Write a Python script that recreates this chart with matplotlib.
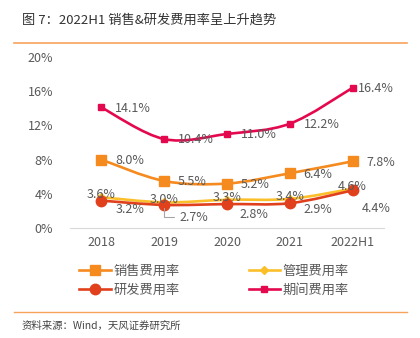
import matplotlib
matplotlib.use('Agg')
import matplotlib.pyplot as plt
from matplotlib.lines import Line2D
from matplotlib.path import Path
from matplotlib.patches import PathPatch

plt.rcParams['font.family'] = ['Noto Sans CJK SC', 'DejaVu Sans']

years = ['2018', '2019', '2020', '2021', '2022H1']
sales = [8.0, 5.5, 5.2, 6.4, 7.8]
admin = [3.6, 3.0, 3.3, 3.4, 4.6]
rnd = [3.2, 2.7, 2.8, 2.9, 4.4]
period = [14.1, 10.4, 11.0, 12.2, 16.4]
yticks = [0, 4, 8, 12, 16, 20]

c_sales = '#F58A1F'
c_admin = '#FBBF2A'
c_rnd = '#E0401C'
c_period = '#E4084F'
grey = '#595959'


def smooth_line(ax, xs, ys, color, lw):
    # catmull-rom style bezier through the points (like office "smoothed line")
    pts = list(zip(xs, ys))
    verts = [pts[0]]
    codes = [Path.MOVETO]
    n = len(pts)
    for i in range(n - 1):
        p0 = pts[i - 1] if i > 0 else pts[i]
        p1 = pts[i]
        p2 = pts[i + 1]
        p3 = pts[i + 2] if i + 2 < n else pts[i + 1]
        c1 = (p1[0] + (p2[0] - p0[0]) / 6, p1[1] + (p2[1] - p0[1]) / 6)
        c2 = (p2[0] - (p3[0] - p1[0]) / 6, p2[1] - (p3[1] - p1[1]) / 6)
        verts += [c1, c2, p2]
        codes += [Path.CURVE4] * 3
    ax.add_patch(PathPatch(Path(verts, codes), fc='none', ec=color, lw=lw,
                           capstyle='round', joinstyle='round'))


fig = plt.figure(figsize=(4.2, 3.38), dpi=100)
fig.text(22/420, 1-20/338, '图 7：2022H1 销售&研发费用率呈上升趋势', fontsize=9.5,
         color='#333333', va='center', ha='left')
fig.add_artist(Line2D([14/420, 407/420], [1-43/338, 1-43/338], color='#F7A35C', lw=1.2))
fig.add_artist(Line2D([14/420, 407/420], [1-312/338, 1-312/338], color='#F7A35C', lw=1.0))
fig.text(22/420, 1-326/338, '资料来源：Wind，天风证券研究所', fontsize=7.5,
         color='#444444', va='center', ha='left')

ax = fig.add_axes([70/420, 1-228/338, 314/420, 171/338])
x = list(range(len(years)))
lw = 1.9
series = [
    (period, c_period, 's', 4, '期间费用率'),
    (sales, c_sales, 's', 7, '销售费用率'),
    (admin, c_admin, 'D', 4, '管理费用率'),
    (rnd, c_rnd, 'o', 7.5, '研发费用率'),
]
handles = {}
for ys, c, m, ms, name in series:
    smooth_line(ax, x, ys, c, lw)
    ax.plot(x, ys, ls='none', marker=m, ms=ms, color=c)
    handles[name] = Line2D([], [], color=c, lw=lw, marker=m, ms=ms)

ax.set_xlim(-0.5, 4.5)
ax.set_ylim(0, 20)
ax.set_yticks(yticks)
ax.set_yticklabels(['%d%%' % v for v in yticks])
ax.set_xticks(x)
ax.set_xticklabels(years)
ax.tick_params(axis='both', length=0, labelsize=9, colors=grey, pad=6)
ax.tick_params(axis='y', pad=12)
for s in ['top', 'right', 'left']:
    ax.spines[s].set_visible(False)
ax.spines['bottom'].set_color('#D9D9D9')

fs = 9
# value labels
period_dx = [0.22, 0.22, 0.22, 0.22, 0.09]
for i, v in enumerate(period):
    ax.text(i + period_dx[i], v - 0.1, '%.1f%%' % v, fontsize=fs, color=grey,
            va='center', ha='left')
for i, v in enumerate(sales):
    ax.text(i + 0.22, v - 0.1, '%.1f%%' % v, fontsize=fs, color=grey, va='center', ha='left')
for i, v in enumerate(admin):
    ax.text(i, v + 0.3, '%.1f%%' % v, fontsize=fs, color=grey, va='center', ha='center')
rnd_dx = [0.22, 0.25, 0.2, 0.22, 0.15]
rnd_dy = [1.05, 1.45, 1.2, 0.75, 2.1]
for i, v in enumerate(rnd):
    if i == 1:
        ax.annotate('%.1f%%' % v, xy=(i, v), xytext=(i + rnd_dx[i], v - rnd_dy[i]), fontsize=fs,
                    color=grey, va='center', ha='left',
                    arrowprops=dict(arrowstyle='-', color='#A6A6A6', lw=0.8,
                                    connectionstyle='angle,angleA=0,angleB=90'))
    else:
        ax.text(i + rnd_dx[i], v - rnd_dy[i], '%.1f%%' % v, fontsize=fs, color=grey,
                va='center', ha='left')

order = ['销售费用率', '研发费用率', '管理费用率', '期间费用率']
fig.legend([handles[k] for k in order], order, ncol=2, loc='center',
           bbox_to_anchor=(0.51, 1-281/338), frameon=False, fontsize=9.5,
           labelcolor=grey, columnspacing=5.2, handlelength=2.4, handletextpad=0.2,
           labelspacing=0.45)

fig.savefig('out.png', dpi=100)
